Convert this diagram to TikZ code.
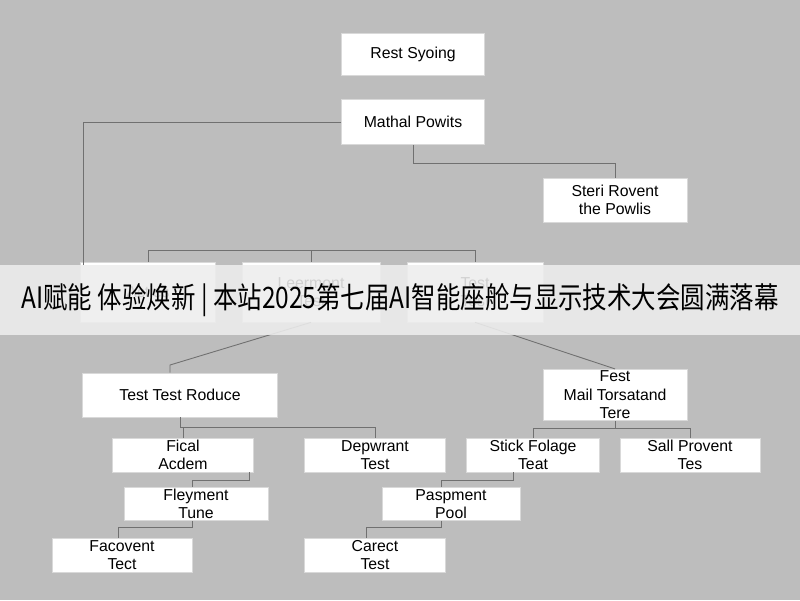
\documentclass[tikz,border=0pt]{standalone}
\usepackage{fontspec}
\setmainfont{Liberation Sans}
\newfontfamily\cjk{Noto Sans CJK SC}
\usetikzlibrary{positioning}
\definecolor{bggray}{HTML}{BDBDBD}
\definecolor{linegray}{HTML}{707070}
\tikzset{
  box/.style={draw=white!85!black, fill=white, align=center, inner sep=1pt,
    font=\fontsize{9}{10.5}\selectfont},
  link/.style={draw=linegray, line width=.5pt}
}
\begin{document}
\begin{tikzpicture}[x=0.02cm, y=-0.02cm]
	\useasboundingbox (0,0) rectangle (800,600);
	\fill[bggray] (0,0) rectangle (800,600);
	
	% top of the tree
	\begin{scope}
	\node (rest) at (413,54) [box, minimum width=2.86cm, minimum height=.84cm] {Rest Syoing};
	\node (mathal) at (413,122) [box, minimum width=2.86cm, minimum height=.9cm] {Mathal Powits};
	\node (steri) at (615,200) [box, minimum width=2.88cm, minimum height=.88cm] {Steri Rovent\\the Powlis};
	\end{scope}
	
	% row hidden by the banner
	\begin{scope}
	\node (acties) at (148,292) [box, minimum width=2.7cm, minimum height=1.2cm] {Acties};
	\node (leer) at (311,292) [box, minimum width=2.76cm, minimum height=1.2cm] {Leermont\\Test};
	\node (test) at (475,292) [box, minimum width=2.72cm, minimum height=1.2cm] {Test\\Test};
	\coordinate (bus) at (311,250);
	\end{scope}
	
	% lower rows
	\begin{scope}
	\node (reduce) at (180,395) [box, minimum width=3.9cm, minimum height=.88cm] {Test Test Roduce};
	\node (mail) at (615,395) [box, minimum width=2.88cm, minimum height=.88cm] {Fest\\Mail Torsatand\\Tere};
	\node (fical) at (183,455) [box, minimum width=2.82cm, minimum height=.68cm] {Fical\\Acdem};
	\node (dep) at (375,455) [box, minimum width=2.82cm, minimum height=.68cm] {Depwrant\\Test};
	\node (stick) at (533,455) [box, minimum width=2.66cm, minimum height=.68cm] {Stick Folage\\Teat};
	\node (sail) at (690,455) [box, minimum width=2.8cm, minimum height=.68cm] {Sall Provent\\Tes};
	\node (fley) at (196,504) [box, minimum width=2.88cm, minimum height=.66cm] {Fleyment\\Tune};
	\node (pasp) at (451,504) [box, minimum width=2.76cm, minimum height=.66cm] {Paspment\\Pool};
	\node (facov) at (122,555) [box, minimum width=2.8cm, minimum height=.68cm] {Facovent\\Tect};
	\node (carest) at (375,555) [box, minimum width=2.82cm, minimum height=.68cm] {Carect\\Test};
	\end{scope}
	
	\begin{scope}[link]
	\draw (mathal.west) -| (83,265);
	\draw (mathal.south) |- (615,163) -- (steri.north);
	\draw (acties.north) |- (leer.north |- bus) -- (leer.north);
	\draw (bus) -| (test.north);
	\draw (leer.south) -- (170,365) -- (reduce.north -| 170,0);
	\draw (test.south) -- (mail.north -| 615,365) -- (mail.north);
	\draw (reduce.south) -- (180,427) -| (fical.north);
	\draw (180,427) -| (dep.north);
	\draw (mail.south) -- (615,428) -| (stick.north);
	\draw (615,428) -| (sail.north);
	\draw (fical.south east) ++(-4,0) |- (192,480) -- (fley.north -| 192,0);
	\draw (fley.south -| 192,0) |- (118,527) -- (facov.north -| 118,0);
	\draw (stick.south -| 513,0) |- (441,480) -- (pasp.north -| 441,0);
	\draw (pasp.south -| 441,0) |- (366,527) -- (carest.north -| 366,0);
	\end{scope}
	
	% banner across the middle
	\fill[white!93!black, opacity=.88] (0,265) rectangle (800,335);
	\node (banner) at (400,300) {\cjk\fontsize{16}{19}\selectfont\scalebox{.87}[1.05]{AI赋能 体验焕新 | 本站2025第七届AI智能座舱与显示技术大会圆满落幕}};
\end{tikzpicture}
\end{document}
